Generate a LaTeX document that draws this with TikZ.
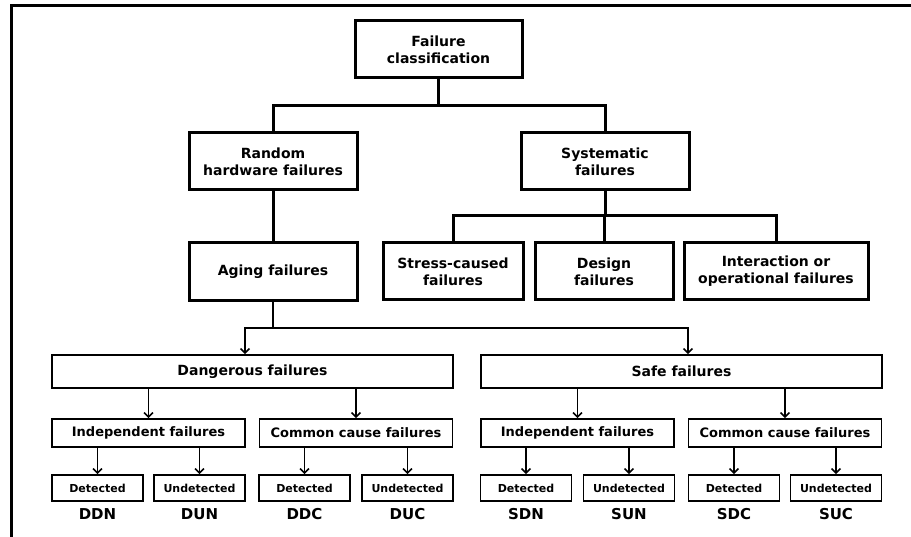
\documentclass[tikz,border=0pt]{standalone}
\usepackage{fontspec}
\setmainfont{DejaVu Sans}
\usetikzlibrary{arrows.meta}

\begin{document}
\begin{tikzpicture}[
  x=1pt,y=-1pt,
  cls/.style={
    draw,
    line width=3pt,
    minimum width=168pt,
    minimum height=57pt,
    inner sep=2pt,
    align=center,
    font=\fontsize{14}{17}\selectfont\bfseries
  },
  mode/.style={draw,line width=1.8pt,minimum width=401pt,minimum height=33pt,
    font=\fontsize{14}{17}\selectfont\bfseries},
  cause/.style={draw,line width=1.8pt,minimum width=193pt,minimum height=28pt,
    font=\fontsize{13}{15}\selectfont\bfseries},
  detect/.style={draw,line width=1.8pt,minimum width=91pt,minimum height=26pt,
    font=\fontsize{11}{13}\selectfont\bfseries},
  tag/.style={font=\fontsize{15}{17}\selectfont\bfseries},
  branch/.style={line width=3pt},
  feed/.style={line width=1.7pt},
  split/.style={feed,-{Straight Barb[length=4.5pt,width=9pt,line width=1.5pt]}}
]
  \useasboundingbox (0,0) rectangle (911,537);
  \draw[line width=3pt] (911,5.5) -- (11,5.5) -- (11,537);

  % Upper classification tree with heavy boxes.
  \node[cls,minimum width=167pt] (fc) at (438.5,49.5) {Failure\\classification};
  \node[cls] (rhf) at (273,161.5) {Random\\hardware failures};
  \node[cls] (sys) at (605,161.5) {Systematic\\failures};
  \node[cls,minimum height=58pt] (aging) at (273,272) {Aging failures};
  \node[cls,minimum width=140pt] (stress) at (453,271.5) {Stress-caused\\failures};
  \node[cls,minimum width=138pt] (design) at (604,271.5) {Design\\failures};
  \node[cls,minimum width=184pt] (inter) at (776,271.5) {Interaction or\\operational failures};

  \coordinate (top-fork) at (438.5,106);
  \draw[branch] (fc.south) -- (top-fork);
  \draw[branch] (rhf.north) |- (top-fork) -| (sys.north);
  \draw[branch] (rhf.south) -- (aging.north);
  \coordinate (sys-fork) at (605,216);
  \draw[branch] (sys.south) -- (sys-fork);
  \draw[branch] (stress.north) |- (sys-fork) -| (inter.north);
  \draw[branch] (design.north) -- (design.north |- sys-fork);

  % Failure modes of aging failures.
  \node[mode] (dang) at (252.5,371.5) {Dangerous failures};
  \node[mode] (safe) at (681.5,371.5) {Safe failures};
  \coordinate (age-fork) at (273,328);
  \draw[feed] (aging.south) -- (age-fork);
  \draw[split] (age-fork) -| ([xshift=-7.5]dang.north);
  \draw[split] (age-fork) -| ([xshift=6.5]safe.north);

  \node[cause] (di) at (148.5,433) {Independent failures};
  \node[cause] (dc) at (356,433) {Common cause failures};
  \node[cause] (si) at (577.5,433) {Independent failures};
  \node[cause] (sc) at (785,433) {Common cause failures};
  \foreach \sub/\mode in {di/dang,dc/dang,si/safe,sc/safe}
    \draw[split] (\sub.north |- \mode.south) -- (\sub.north);

  % Detected / undetected leaves with their codes.
  \foreach \name/\x/\parent/\txt/\code in {
      ddn/97.5/di/Detected/DDN, dun/199.5/di/Undetected/DUN,
      ddc/304.5/dc/Detected/DDC, duc/407.5/dc/Undetected/DUC,
      sdn/526/si/Detected/SDN, sun/629/si/Undetected/SUN,
      sdc/734/sc/Detected/SDC, suc/836/sc/Undetected/SUC} {
    \node[detect] (\name) at (\x,488) {\txt};
    \node[tag] (\name-tag) at (\x,514.5) {\code};
    \draw[split] (\name.north |- \parent.south) -- (\name.north);
  }
\end{tikzpicture}
\end{document}
